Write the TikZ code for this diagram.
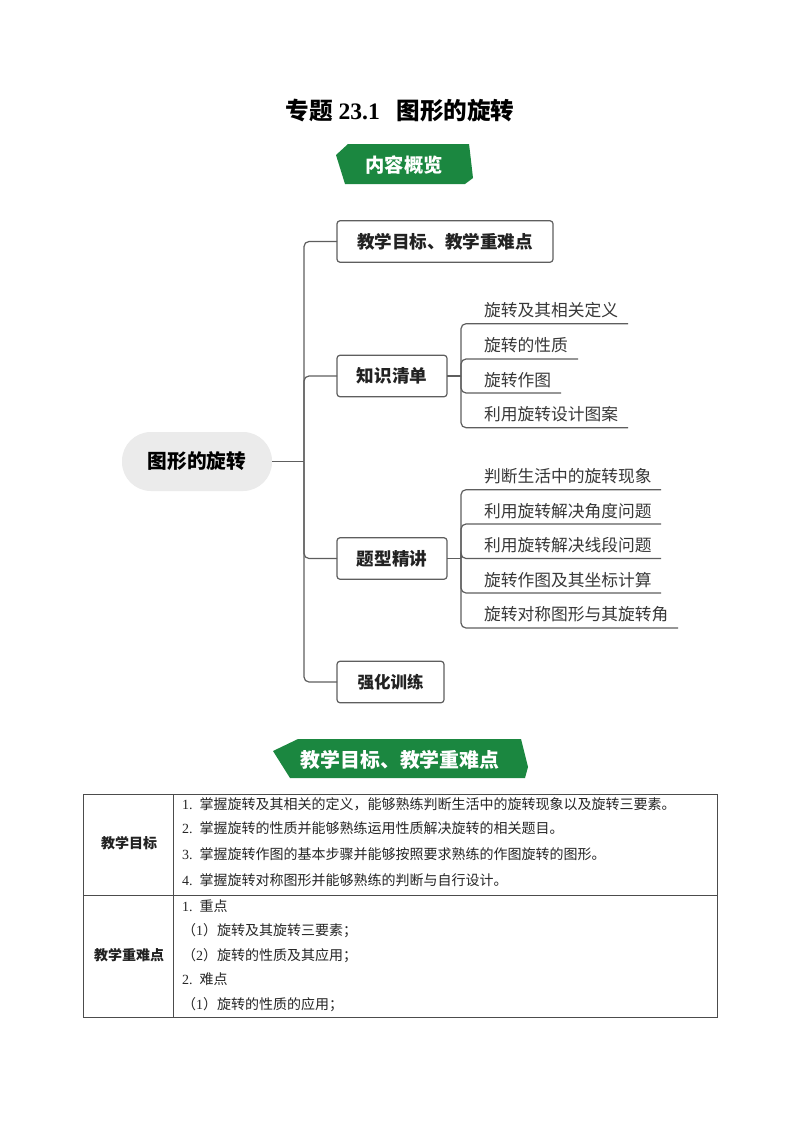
\documentclass[tikz,border=0pt]{standalone}
\usepackage{fontspec}
\setmainfont{Liberation Serif}
\newfontfamily\cjk{Noto Sans CJK SC}
\newcommand\zw[1]{{\cjk #1}}
\newcommand\fsz[1]{\fontsize{#1}{#1}\selectfont}
\definecolor{ink}{HTML}{222222}
\definecolor{wire}{HTML}{5E5E5E}
\definecolor{bannergreen}{HTML}{1B8740}
\tikzset{
  base/.style={inner sep=0pt,outer sep=0pt,text=ink},
  titletext/.style={base,anchor=base,text=black,font=\fsz{23.6}\bfseries},
  bannerbg/.style={fill=bannergreen,draw=none},
  bannertext/.style={base,anchor=center,text=white,font=\cjk\bfseries},
  branchbox/.style={draw=wire,line width=1.2pt,rounded corners=3pt,fill=white,minimum height=41.5pt,inner sep=0pt,outer sep=0pt,text=ink,font=\cjk\fsz{17.6}\bfseries},
  rootpill/.style={fill=black!8,rounded corners=29pt,minimum width=150pt,minimum height=59pt,inner sep=0pt,outer sep=0pt,text=black,font=\cjk\fsz{19.7}\bfseries},
  leaf/.style={base,anchor=base west,font=\cjk\fsz{16.75},text=black!78},
  conn/.style={draw=wire,line width=1.2pt,rounded corners=5pt},
  rowtext/.style={base,anchor=base west,font=\fsz{14},text=black!85},
  headtext/.style={base,anchor=base,font=\cjk\fsz{14}\bfseries},
  tableline/.style={draw=black!70,line width=1pt}
}
\begin{document}
\begin{tikzpicture}[x=1pt,y=-1pt]
\useasboundingbox[fill=white] (0,0) rectangle (800,1132);

\node[titletext] (title) at (400,119.5) {\zw{专题} 23.1\hspace{0.7em}\zw{图形的旋转}};

\fill[bannerbg] (336,155) -- (348,144) -- (469,144) -- (470,152) -- (473,178) -- (465,184) -- (345,184) -- cycle;
\node[bannertext,font=\cjk\fsz{19.3}\bfseries] (ban1) at (404,165) {内容概览};

\node[rootpill] (root) at (197,461.5) {图形的旋转};
\node[branchbox,anchor=west,minimum width=216pt] (b1) at (337,241.5) {教学目标、教学重难点};
\node[branchbox,anchor=west,minimum width=110pt] (b2) at (337,376) {知识清单};
\node[branchbox,anchor=west,minimum width=110pt] (b3) at (337,558.5) {题型精讲};
\node[branchbox,anchor=west,minimum width=107pt,font=\cjk\fsz{16.5}\bfseries] (b4) at (337,682) {强化训练};

\coordinate (hub) at (304,461.5);
\draw[conn] (root.east) -- (hub);
\draw[conn] (hub) |- (b1.west);
\draw[conn] (hub) |- (b2.west);
\draw[conn] (hub) |- (b3.west);
\draw[conn] (hub) |- (b4.west);

\coordinate (hubA) at (461,376);
\coordinate (hubB) at (461,558.5);
\draw[conn] (b2.east) -- (hubA);
\draw[conn] (b3.east) -- (hubB);

\node[leaf] (a1) at (484,316.7) {旋转及其相关定义};
\node[leaf] (a2) at (484,351) {旋转的性质};
\node[leaf] (a3) at (484,386) {旋转作图};
\node[leaf] (a4) at (484,420) {利用旋转设计图案};
\coordinate (a1e) at (628,323.7);
\coordinate (a2e) at (578,359);
\coordinate (a3e) at (561,393);
\coordinate (a4e) at (628,427.7);
\foreach \e in {a1e,a2e,a3e,a4e} \draw[conn] (hubA) |- (\e);

\node[leaf] (c1) at (484,482) {判断生活中的旋转现象};
\node[leaf] (c2) at (484,517) {利用旋转解决角度问题};
\node[leaf] (c3) at (484,551.7) {利用旋转解决线段问题};
\node[leaf] (c4) at (484,586) {旋转作图及其坐标计算};
\node[leaf] (c5) at (484,620) {旋转对称图形与其旋转角};
\coordinate (c1e) at (661,489.7);
\coordinate (c2e) at (661,524);
\coordinate (c3e) at (661,558.5);
\coordinate (c4e) at (661,593);
\coordinate (c5e) at (678,628);
\foreach \e in {c1e,c2e,c3e,c4e,c5e} \draw[conn] (hubB) |- (\e);

\fill[bannerbg] (273,751) -- (298,739) -- (521,739) -- (528,767) -- (525,778) -- (290,778) -- cycle;
\node[bannertext,font=\cjk\fsz{19.9}\bfseries] (ban2) at (400,760) {教学目标、教学重难点};

\draw[tableline] (83.5,794.5) rectangle (717.5,1017.5);
\draw[tableline] (173.5,794.5) -- (173.5,1017.5);
\draw[tableline] (83.5,895.5) -- (717.5,895.5);

\node[headtext] (h1) at (129,848) {教学目标};
\node[headtext] (h2) at (129,960) {教学重难点};

\node[rowtext] (r1) at (182,809) {1.\hspace{7pt}\zw{掌握旋转及其相关的定义，能够熟练判断生活中的旋转现象以及旋转三要素。}};
\node[rowtext] (r2) at (182,833.5) {2.\hspace{7pt}\zw{掌握旋转的性质并能够熟练运用性质解决旋转的相关题目。}};
\node[rowtext] (r3) at (182,859.5) {3.\hspace{7pt}\zw{掌握旋转作图的基本步骤并能够按照要求熟练的作图旋转的图形。}};
\node[rowtext] (r4) at (182,885.5) {4.\hspace{7pt}\zw{掌握旋转对称图形并能够熟练的判断与自行设计。}};

\node[rowtext] (s1) at (182,911) {1.\hspace{7pt}\zw{重点}};
\node[rowtext] (s2) at (182,935) {\zw{（}1\zw{）旋转及其旋转三要素；}};
\node[rowtext] (s3) at (182,960) {\zw{（}2\zw{）旋转的性质及其应用；}};
\node[rowtext] (s4) at (182,984) {2.\hspace{7pt}\zw{难点}};
\node[rowtext] (s5) at (182,1009) {\zw{（}1\zw{）旋转的性质的应用；}};
\end{tikzpicture}
\end{document}
